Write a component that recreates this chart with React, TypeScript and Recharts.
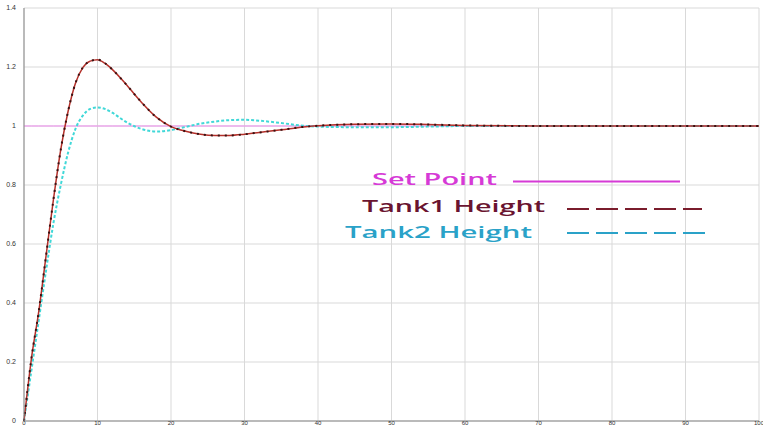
import React from 'react';
import { LineChart, Line, XAxis, YAxis, CartesianGrid } from 'recharts';

// time (s) samples for the step response
const time = [0, 1, 2, 3, 4, 5, 6, 7, 8, 9, 10, 11, 12, 14, 16, 18, 20, 22, 24, 26, 28, 30, 32, 35, 38, 40, 45, 50, 55, 60, 70, 80, 90, 100];
const tank1 = [0, 0.21, 0.37, 0.56, 0.75, 0.92, 1.05, 1.145, 1.198, 1.22, 1.225, 1.213, 1.192, 1.138, 1.08, 1.03, 0.998, 0.982, 0.972, 0.968, 0.968, 0.972, 0.978, 0.987, 0.997, 1.001, 1.006, 1.007, 1.005, 1.002, 1.0, 1.0, 1.0, 1.0];
const tank2 = [0, 0.17, 0.34, 0.51, 0.67, 0.8, 0.91, 0.99, 1.035, 1.058, 1.063, 1.058, 1.045, 1.012, 0.99, 0.981, 0.986, 0.997, 1.008, 1.015, 1.02, 1.021, 1.018, 1.01, 1.001, 0.998, 0.996, 0.996, 0.998, 1.0, 1.0, 1.0, 1.0, 1.0];
const setPoint = 1;

const xTicks = [0, 10, 20, 30, 40, 50, 60, 70, 80, 90, 100];
const yTicks = [0, 0.2, 0.4, 0.6, 0.8, 1, 1.2, 1.4];

const data = time.map((t, i) => ({ t, sp: setPoint, h1: tank1[i], h2: tank2[i] }));

const tickStyle = { fontSize: 7, fill: '#333', fontFamily: 'Liberation Sans, Arial, sans-serif' };
const xTickStyle = { ...tickStyle, fontSize: 6 };

const Legend = () => (
  <svg width={763} height={427} style={{ position: 'absolute', left: 0, top: 0, pointerEvents: 'none' }}>
    <g fontFamily="'Open Sans', 'Noto Sans', sans-serif" fontSize={17} fontWeight={600}>
      <text x={372} y={185} fill="#d63ad6" textLength={125} lengthAdjust="spacingAndGlyphs">Set Point</text>
      <line x1={513} y1={181.5} x2={680} y2={181.5} stroke="#d63ad6" strokeWidth={2} />
      <text x={362} y={212} fill="#6a1430" textLength={183} lengthAdjust="spacingAndGlyphs">Tank1 Height</text>
      <line x1={567} y1={209} x2={702} y2={209} stroke="#7a1c2c" strokeWidth={2} strokeDasharray="22 7" />
      <text x={345} y={238} fill="#2aa2c8" textLength={187} lengthAdjust="spacingAndGlyphs">Tank2 Height</text>
      <line x1={567} y1={233} x2={705} y2={233} stroke="#2aa2c8" strokeWidth={2} strokeDasharray="22 7" />
    </g>
  </svg>
);

export default function App() {
  return (
    <div style={{ position: 'absolute', left: 0, top: 0, width: 763, height: 427, overflow: 'hidden', background: '#fff' }}>
      <LineChart width={780} height={440} data={data} margin={{ top: 8, right: 21, left: 0, bottom: 0 }}>
        <CartesianGrid stroke="#d9d9d9" />
        <XAxis
          dataKey="t"
          type="number"
          domain={[0, 100]}
          ticks={xTicks}
          height={19}
          tick={xTickStyle}
          tickLine={false}
          tickSize={0}
          tickMargin={0}
          interval={0}
          stroke="#888"
        />
        <YAxis
          type="number"
          domain={[0, 1.4]}
          ticks={yTicks}
          width={24}
          tick={tickStyle}
          tickLine={false}
          stroke="#888"
        />
        <Line dataKey="sp" stroke="#ee88ee" strokeWidth={1} dot={false} isAnimationActive={false} />
        <Line type="monotone" dataKey="h2" stroke="#40d8d8" strokeWidth={2} strokeDasharray="3 2" dot={false} isAnimationActive={false} />
        <Line type="monotone" dataKey="h1" stroke="#b3302a" strokeWidth={1.5} dot={false} isAnimationActive={false} />
        <Line type="monotone" dataKey="h1" stroke="#3a1212" strokeWidth={2} strokeDasharray="2 5" dot={false} isAnimationActive={false} />
      </LineChart>
      <Legend />
    </div>
  );
}
